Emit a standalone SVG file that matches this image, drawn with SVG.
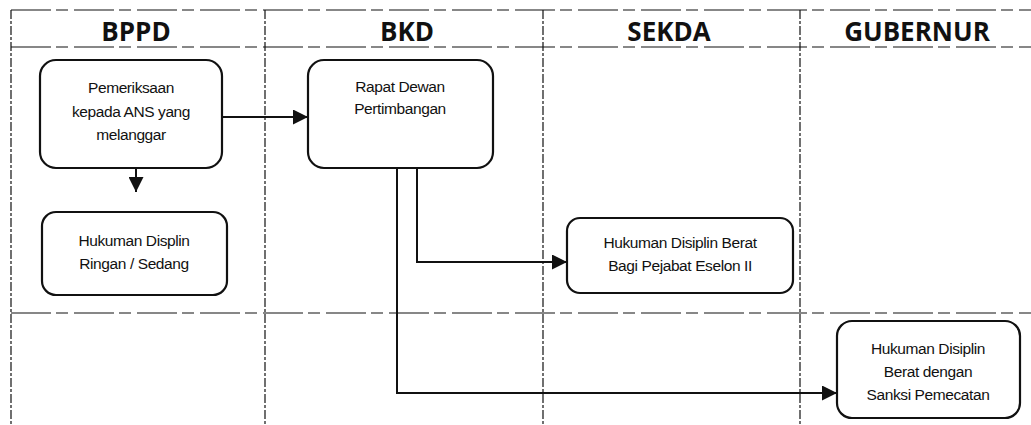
<svg xmlns="http://www.w3.org/2000/svg" width="1031" height="425" viewBox="0 0 1031 425">
<style>
.lane{stroke:#111;stroke-width:1.2;fill:none}
.h{stroke-dasharray:40 5 12 6}
.v{stroke-dasharray:9 2 3 2}
.hdr{font-family:"Open Sans","DejaVu Sans",sans-serif;font-weight:bold;font-size:26px;fill:#111;text-anchor:middle}
.box{fill:#fff;stroke:#111;stroke-width:2.2}
.lbl{font-family:"Liberation Sans",Arial,sans-serif;font-size:15.5px;fill:#111;text-anchor:middle;letter-spacing:-0.4px}
.con{fill:none;stroke:#111;stroke-width:2}
</style>
<defs>
<marker id="ah2" markerWidth="15" markerHeight="15" refX="15" refY="7.5" orient="auto" markerUnits="userSpaceOnUse" viewBox="0 0 15 15">
<path d="M0,0 L15,7.5 L0,15 Z" fill="#111"/>
</marker>
</defs>
<rect width="1031" height="425" fill="#fff"/>
<g id="lanes">
<line class="lane h" x1="11" y1="10" x2="1031" y2="10"/>
<line class="lane h" x1="11" y1="47" x2="1031" y2="47"/>
<line class="lane h" x1="11" y1="313" x2="1031" y2="313"/>
<line class="lane v" x1="11" y1="10" x2="11" y2="425"/>
<line class="lane v" x1="265" y1="10" x2="265" y2="425"/>
<line class="lane v" x1="543" y1="10" x2="543" y2="425"/>
<line class="lane v" x1="800" y1="10" x2="800" y2="425"/>
<text class="hdr" x="136" y="41">BPPD</text>
<text class="hdr" x="407" y="41">BKD</text>
<text class="hdr" x="669" y="41">SEKDA</text>
<text class="hdr" x="917" y="41">GUBERNUR</text>
</g>
<g id="connectors">
<line class="con" x1="222" y1="117" x2="308" y2="117" marker-end="url(#ah2)"/>
<line class="con" x1="136" y1="168" x2="136" y2="192" marker-end="url(#ah2)"/>
<polyline class="con" points="417,168 417,262 567,262" marker-end="url(#ah2)"/>
<polyline class="con" points="397,168 397,393 837,393" marker-end="url(#ah2)"/>
</g>
<g id="node-pemeriksaan">
<rect class="box" x="40" y="60" width="182" height="108" rx="16"/>
<text class="lbl" x="131" y="93">Pemeriksaan</text>
<text class="lbl" x="131" y="117">kepada ANS yang</text>
<text class="lbl" x="131" y="140">melanggar</text>
</g>
<g id="node-ringan">
<rect class="box" x="42" y="212" width="185" height="83" rx="14"/>
<text class="lbl" x="134" y="246">Hukuman Displin</text>
<text class="lbl" x="134" y="269">Ringan / Sedang</text>
</g>
<g id="node-rapat">
<rect class="box" x="308" y="60" width="185" height="108" rx="16"/>
<text class="lbl" x="400" y="92">Rapat Dewan</text>
<text class="lbl" x="400" y="114">Pertimbangan</text>
</g>
<g id="node-eselon">
<rect class="box" x="567" y="218" width="226" height="75" rx="13"/>
<text class="lbl" x="680" y="248">Hukuman Disiplin Berat</text>
<text class="lbl" x="680" y="271">Bagi Pejabat Eselon II</text>
</g>
<g id="node-pemecatan">
<rect class="box" x="837" y="321" width="183" height="97" rx="15"/>
<text class="lbl" x="928" y="354">Hukuman Disiplin</text>
<text class="lbl" x="928" y="377">Berat dengan</text>
<text class="lbl" x="928" y="400">Sanksi Pemecatan</text>
</g>
</svg>
